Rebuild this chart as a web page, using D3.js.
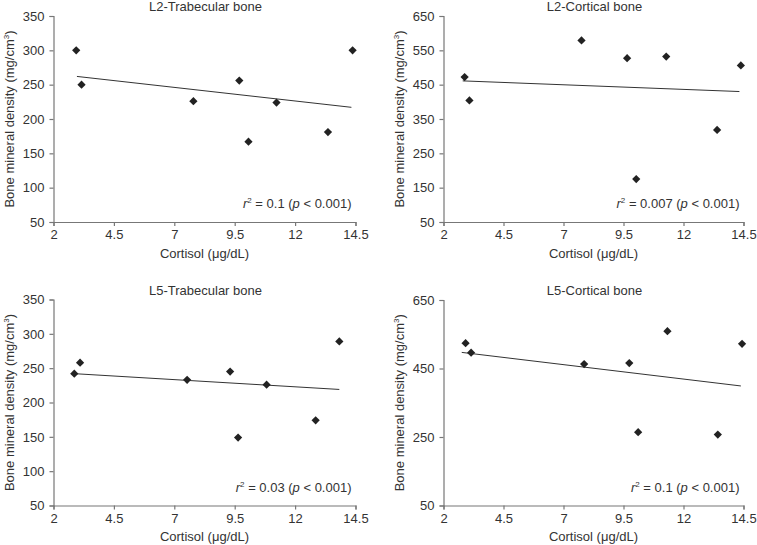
<!DOCTYPE html>
<html>
<head>
<meta charset="utf-8">
<script src="https://cdn.jsdelivr.net/npm/d3@7"></script>
<style>
  html, body { margin: 0; padding: 0; background: #fff; }
  svg { display: block; font-family: "Liberation Sans", Arial, sans-serif; }
</style>
</head>
<body>
<svg id="chart" width="757" height="545"></svg>
<script>
// ---- Data ----
const panelTitles = ["L2-Trabecular bone", "L2-Cortical bone", "L5-Trabecular bone", "L5-Cortical bone"];
const xTicks = [2, 4.5, 7, 9.5, 12, 14.5];
const yTicksTrab = [50, 100, 150, 200, 250, 300, 350];
const yTicksL2Cort = [50, 150, 250, 350, 450, 550, 650];
const yTicksL5Cort = [50, 250, 450, 650];

const cortisolL2Trab = [2.94, 3.16, 7.79, 9.69, 10.07, 11.23, 13.36, 14.38];
const bmdL2Trab      = [300, 250, 226, 256, 167, 224, 181, 300];
const cortisolL2Cort = [2.88, 3.08, 7.75, 9.65, 10.03, 11.28, 13.4, 14.39];
const bmdL2Cort      = [472, 404, 579, 527, 175, 532, 318, 506];
const cortisolL5Trab = [2.86, 3.1, 7.53, 9.31, 9.64, 10.82, 12.85, 13.83];
const bmdL5Trab      = [242, 258, 233, 245, 149, 226, 174, 289];
const cortisolL5Cort = [2.92, 3.15, 7.86, 9.74, 10.11, 11.33, 13.43, 14.44];
const bmdL5Cort      = [524, 496, 463, 466, 264, 559, 257, 522];

// regression line end points [x0, x1], [y0, y1]
const fitXL2Trab = [2.97, 14.33], fitYL2Trab = [262, 217];
const fitXL2Cort = [2.8, 14.33],  fitYL2Cort = [461, 430];
const fitXL5Trab = [2.86, 13.83], fitYL5Trab = [242, 219];
const fitXL5Cort = [2.76, 14.39], fitYL5Cort = [497, 399];

const r2Values = ["0.1", "0.007", "0.03", "0.1"];

// ---- Layout ----
const svg = d3.select("#chart");
const textColor = "#333";
const axisColor = "#777";
const fs = 13;

const panels = [
  { title: panelTitles[0], x: cortisolL2Trab, y: bmdL2Trab, fx: fitXL2Trab, fy: fitYL2Trab, yDomain: [50, 350], yTicks: yTicksTrab, r2: r2Values[0],
    left: 53.5, right: 355.5, top: 16, bottom: 222 },
  { title: panelTitles[1], x: cortisolL2Cort, y: bmdL2Cort, fx: fitXL2Cort, fy: fitYL2Cort, yDomain: [50, 650], yTicks: yTicksL2Cort, r2: r2Values[1],
    left: 443.5, right: 743.5, top: 16, bottom: 222 },
  { title: panelTitles[2], x: cortisolL5Trab, y: bmdL5Trab, fx: fitXL5Trab, fy: fitYL5Trab, yDomain: [50, 350], yTicks: yTicksTrab, r2: r2Values[2],
    left: 53.5, right: 355.5, top: 299.5, bottom: 505.5 },
  { title: panelTitles[3], x: cortisolL5Cort, y: bmdL5Cort, fx: fitXL5Cort, fy: fitYL5Cort, yDomain: [50, 650], yTicks: yTicksL5Cort, r2: r2Values[3],
    left: 443.5, right: 743.5, top: 300, bottom: 505.5 }
];

const diamond = d3.symbol().type(d3.symbolSquare).size(34);

panels.forEach(p => {
  const x = d3.scaleLinear().domain([2, 14.5]).range([p.left, p.right]);
  const y = d3.scaleLinear().domain(p.yDomain).range([p.bottom, p.top]);
  const g = svg.append("g");

  // x axis
  const xa = g.append("g").attr("transform", `translate(0,${p.bottom})`)
    .call(d3.axisBottom(x).tickValues(xTicks).tickSize(4).tickPadding(4).tickFormat(d => String(d)));
  // y axis
  const ya = g.append("g").attr("transform", `translate(${p.left},0)`)
    .call(d3.axisLeft(y).tickValues(p.yTicks).tickSize(4).tickPadding(5).tickFormat(d => String(d)));

  [xa, ya].forEach(a => {
    a.attr("font-size", fs).attr("font-family", "Liberation Sans, Arial, sans-serif");
    a.select(".domain").attr("stroke", axisColor).attr("stroke-width", 1.2);
    a.selectAll(".tick line").attr("stroke", axisColor).attr("stroke-width", 1.2);
    a.selectAll(".tick text").attr("fill", textColor);
  });

  // title
  g.append("text")
    .attr("x", (p.left + p.right) / 2 + 1)
    .attr("y", p.top - 5)
    .attr("text-anchor", "middle")
    .attr("font-size", fs)
    .attr("fill", textColor)
    .text(p.title);

  // x label
  g.append("text")
    .attr("x", (p.left + p.right) / 2)
    .attr("y", p.bottom + 35.5)
    .attr("text-anchor", "middle")
    .attr("font-size", fs)
    .attr("fill", textColor)
    .text("Cortisol (\u03BCg/dL)");

  // y label
  const yl = g.append("text")
    .attr("transform", `translate(${p.left - 40},${(p.top + p.bottom) / 2}) rotate(-90)`)
    .attr("text-anchor", "middle")
    .attr("font-size", fs)
    .attr("fill", textColor);
  yl.append("tspan").text("Bone mineral density (mg/cm");
  yl.append("tspan").attr("font-size", 8).attr("dy", -5).text("3");
  yl.append("tspan").attr("dy", 5).text(")");

  // regression line
  const line = d3.line().x(d => x(d[0])).y(d => y(d[1]));
  g.append("path")
    .datum(d3.zip(p.fx, p.fy))
    .attr("d", line)
    .attr("fill", "none")
    .attr("stroke", "#333")
    .attr("stroke-width", 1);

  // points
  g.selectAll(".pt").data(d3.zip(p.x, p.y)).join("path")
    .attr("class", "pt")
    .attr("d", diamond)
    .attr("transform", d => `translate(${x(d[0])},${y(d[1])}) rotate(45)`)
    .attr("fill", "#222");

  // r2 annotation
  const ann = g.append("text")
    .attr("x", p.right - 4)
    .attr("y", p.bottom - 14)
    .attr("text-anchor", "end")
    .attr("font-size", fs)
    .attr("fill", textColor);
  ann.append("tspan").attr("font-style", "italic").text("r");
  ann.append("tspan").attr("font-size", 8).attr("dy", -5).text("2");
  ann.append("tspan").attr("dy", 5).text(` = ${p.r2} (`);
  ann.append("tspan").attr("font-style", "italic").text("p");
  ann.append("tspan").text(" < 0.001)");
});
</script>
</body>
</html>
